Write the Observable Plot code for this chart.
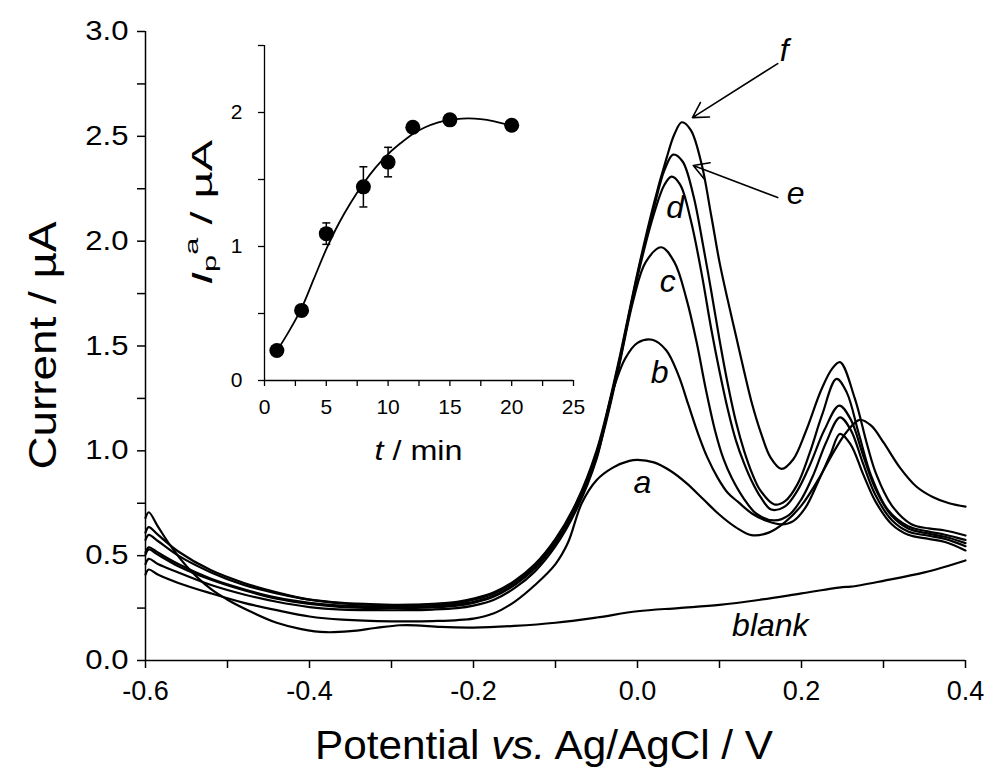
<!DOCTYPE html>
<html><head><meta charset="utf-8">
<script src="https://cdn.jsdelivr.net/npm/d3@7"></script>
<script src="https://cdn.jsdelivr.net/npm/@observablehq/plot@0.6"></script>
<style>
body{margin:0;background:#fff;}
#wrap{position:relative;width:986px;height:774px;}
#wrap svg{position:absolute;left:0;top:0;}
</style></head><body><div id="wrap"></div>
<script>
// ---------- main chart data (potential V, current µA) ----------
const xDomain = [-0.6, 0.4];
const yDomain = [0, 3.0];
const xMajor = [-0.6, -0.4, -0.2, 0.0, 0.2, 0.4];
const xMinor = [-0.5, -0.3, -0.1, 0.1, 0.3];
const yMajor = [0, 0.5, 1.0, 1.5, 2.0, 2.5, 3.0];
const yMinor = [0.25, 0.75, 1.25, 1.75, 2.25, 2.75];

const blankV = [-0.600,-0.596,-0.585,-0.57,-0.55,-0.52,-0.50,-0.47,-0.44,-0.41,-0.38,-0.35,-0.32,-0.29,-0.27,-0.24,-0.20,-0.15,-0.10,-0.05,0.00,0.05,0.10,0.15,0.20,0.25,0.26,0.30,0.35,0.40];
const blankI = [0.68,0.707,0.64,0.55,0.45,0.34,0.29,0.23,0.18,0.15,0.135,0.14,0.155,0.168,0.168,0.16,0.157,0.165,0.18,0.205,0.235,0.25,0.265,0.29,0.32,0.35,0.352,0.38,0.42,0.477];

const aV = [-0.600,-0.596,-0.585,-0.56,-0.52,-0.48,-0.44,-0.40,-0.36,-0.30,-0.25,-0.20,-0.175,-0.15,-0.125,-0.10,-0.085,-0.068,-0.05,-0.03,-0.01,0.00,0.02,0.04,0.06,0.08,0.10,0.12,0.139,0.16,0.18,0.20,0.22,0.24,0.255,0.271,0.285,0.30,0.32,0.34,0.36,0.38,0.40];
const aI = [0.41,0.434,0.41,0.37,0.32,0.275,0.24,0.21,0.195,0.187,0.188,0.20,0.225,0.28,0.36,0.46,0.56,0.75,0.86,0.92,0.952,0.957,0.945,0.905,0.845,0.77,0.695,0.635,0.598,0.61,0.66,0.74,0.86,1.0,1.09,1.148,1.12,1.04,0.92,0.83,0.78,0.75,0.734];

const bV = [-0.600,-0.596,-0.585,-0.56,-0.52,-0.48,-0.44,-0.40,-0.36,-0.32,-0.28,-0.25,-0.22,-0.20,-0.175,-0.15,-0.125,-0.10,-0.075,-0.05,-0.032,-0.015,0.00,0.018,0.035,0.05,0.062,0.074,0.085,0.098,0.11,0.123,0.14,0.158,0.1756,0.19,0.205,0.22,0.235,0.247,0.26,0.275,0.29,0.31,0.33,0.355,0.375,0.40];
const bI = [0.46,0.485,0.46,0.42,0.36,0.315,0.28,0.255,0.243,0.24,0.24,0.243,0.25,0.262,0.29,0.345,0.425,0.545,0.715,0.96,1.26,1.44,1.515,1.53,1.48,1.36,1.22,1.08,0.97,0.87,0.80,0.755,0.70,0.665,0.649,0.665,0.73,0.85,0.98,1.081,1.03,0.89,0.76,0.65,0.60,0.58,0.565,0.525];

const cV = [-0.600,-0.596,-0.585,-0.56,-0.52,-0.48,-0.44,-0.40,-0.36,-0.32,-0.28,-0.25,-0.22,-0.20,-0.175,-0.15,-0.125,-0.10,-0.075,-0.05,-0.025,-0.005,0.01,0.029,0.045,0.06,0.072,0.083,0.095,0.105,0.115,0.13,0.145,0.167,0.185,0.20,0.215,0.23,0.247,0.26,0.275,0.29,0.31,0.33,0.355,0.375,0.40];
const cI = [0.505,0.53,0.505,0.45,0.385,0.335,0.295,0.27,0.255,0.25,0.25,0.253,0.262,0.275,0.305,0.36,0.44,0.56,0.73,0.97,1.36,1.72,1.90,1.971,1.90,1.72,1.52,1.30,1.09,0.96,0.87,0.77,0.70,0.668,0.695,0.77,0.89,1.04,1.16,1.10,0.94,0.79,0.67,0.615,0.595,0.58,0.545];

const dV = [-0.600,-0.596,-0.585,-0.56,-0.52,-0.48,-0.44,-0.40,-0.36,-0.32,-0.28,-0.25,-0.22,-0.20,-0.175,-0.15,-0.125,-0.10,-0.075,-0.05,-0.025,0.00,0.02,0.033,0.0415,0.052,0.065,0.078,0.09,0.10,0.11,0.12,0.13,0.14,0.15,0.163,0.18,0.195,0.21,0.228,0.246,0.26,0.275,0.29,0.31,0.33,0.355,0.375,0.40];
const dI = [0.515,0.54,0.515,0.46,0.39,0.34,0.30,0.275,0.262,0.257,0.256,0.26,0.268,0.28,0.31,0.365,0.445,0.565,0.735,0.98,1.37,1.83,2.13,2.27,2.308,2.27,2.10,1.85,1.58,1.38,1.20,1.05,0.94,0.85,0.78,0.72,0.735,0.81,0.93,1.10,1.216,1.15,0.98,0.82,0.69,0.63,0.605,0.59,0.56];

const eV = [-0.600,-0.596,-0.585,-0.56,-0.52,-0.48,-0.44,-0.40,-0.36,-0.32,-0.28,-0.25,-0.22,-0.20,-0.175,-0.15,-0.125,-0.10,-0.075,-0.05,-0.025,0.00,0.02,0.033,0.0435,0.055,0.068,0.08,0.09,0.10,0.11,0.12,0.13,0.14,0.15,0.167,0.18,0.195,0.21,0.225,0.2427,0.255,0.27,0.285,0.305,0.33,0.355,0.375,0.40];
const eI = [0.575,0.599,0.57,0.50,0.42,0.36,0.32,0.29,0.275,0.268,0.265,0.268,0.275,0.29,0.32,0.375,0.455,0.575,0.745,0.99,1.38,1.84,2.16,2.34,2.413,2.38,2.22,1.98,1.76,1.53,1.32,1.14,1.0,0.89,0.81,0.744,0.76,0.84,0.99,1.17,1.343,1.28,1.08,0.88,0.72,0.64,0.615,0.60,0.575];

const fV = [-0.600,-0.596,-0.585,-0.56,-0.52,-0.48,-0.44,-0.40,-0.36,-0.32,-0.28,-0.25,-0.22,-0.20,-0.175,-0.15,-0.125,-0.10,-0.075,-0.05,-0.025,0.00,0.02,0.035,0.045,0.054,0.065,0.078,0.09,0.10,0.11,0.12,0.13,0.14,0.151,0.162,0.1756,0.19,0.205,0.224,0.237,0.247,0.265,0.28,0.291,0.31,0.334,0.355,0.375,0.40];
const fI = [0.61,0.636,0.60,0.52,0.43,0.37,0.325,0.29,0.272,0.265,0.265,0.27,0.28,0.295,0.325,0.38,0.46,0.58,0.75,1.0,1.39,1.85,2.18,2.39,2.51,2.567,2.53,2.37,2.12,1.90,1.72,1.55,1.38,1.22,1.08,0.97,0.914,0.96,1.09,1.29,1.39,1.423,1.25,1.03,0.89,0.74,0.65,0.63,0.62,0.596];

const curveNames = ["blank","a","b","c","d","e","f"];
const curveV = [blankV, aV, bV, cV, dV, eV, fV];
const curveI = [blankI, aI, bI, cI, dI, eI, fI];

// curve labels
const labelText = ["f","e","d","c","b","a","blank"];
const labelV = [0.179, 0.193, 0.046, 0.037, 0.027, 0.006, 0.162];
const labelI = [2.909, 2.227, 2.160, 1.807, 1.373, 0.849, 0.167];
// arrows (tail -> head)
const arrowV1 = [0.171, 0.171];
const arrowI1 = [2.847, 2.208];
const arrowV2 = [0.067, 0.068];
const arrowI2 = [2.589, 2.361];

// ---------- inset data ----------
const insetXDomain = [0, 25];
const insetYDomain = [0, 2.5];
const insetXMajor = [0, 5, 10, 15, 20, 25];
const insetXMinor = [2.5, 7.5, 12.5, 17.5, 22.5];
const insetYMajor = [0, 1, 2];
const insetYMinor = [0.5, 1.5, 2.5];
const times = [1, 3, 5, 8, 10, 12, 15, 20];
const peakCurrent = [0.224, 0.523, 1.096, 1.445, 1.63, 1.89, 1.945, 1.905];
const peakError = [0.02, 0.02, 0.08, 0.15, 0.11, 0.02, 0.02, 0.03];
const fitT = [1,2,3,4,5,6,7,8,9,10,11,12,13,14,15,16,17,18,19,20];
const fitI = [0.22,0.37,0.54,0.76,0.98,1.17,1.33,1.47,1.59,1.69,1.77,1.84,1.89,1.925,1.945,1.955,1.955,1.945,1.925,1.90];

// ---------- build tables ----------
const rows = curveNames.flatMap((name, k) => curveV[k].map((v, i) => ({name, V: v, I: curveI[k][i]})));
const labels = labelText.map((t, i) => ({t, V: labelV[i], I: labelI[i]}));
const arrows = arrowV1.map((v, i) => ({x1: v, y1: arrowI1[i], x2: arrowV2[i], y2: arrowI2[i]}));
const pts = times.map((t, i) => ({t, y: peakCurrent[i], lo: peakCurrent[i] - peakError[i], hi: peakCurrent[i] + peakError[i]}));
const fit = fitT.map((t, i) => ({t, y: fitI[i]}));

const FONT = "'Liberation Sans', Arial, Helvetica, sans-serif";
const capSymbol = {draw(ctx, size) { const w = Math.sqrt(size) / 2; ctx.moveTo(-w, 0); ctx.lineTo(w, 0); }};

const W = 986, H = 774;
const mL = 145, mR = 21, mT = 31, mB = 114;

const main = Plot.plot({
  width: W, height: H,
  marginLeft: mL, marginRight: mR, marginTop: mT, marginBottom: mB,
  style: {fontFamily: FONT, background: "transparent", color: "black", overflow: "visible"},
  x: {domain: xDomain, label: null},
  y: {domain: yDomain, label: null},
  marks: [
    Plot.axisX({ticks: xMinor, tickSize: 8, tickFormat: () => "", label: null, strokeWidth: 1.5}),
    Plot.axisY({ticks: yMinor, tickSize: 8, tickFormat: () => "", label: null, strokeWidth: 1.5}),
    Plot.axisX({ticks: xMajor, tickSize: 8, tickPadding: 12, tickFormat: d => d.toFixed(1), fontSize: 27, label: null, strokeWidth: 1.5}),
    Plot.axisY({ticks: yMajor, tickSize: 8, tickPadding: 9, tickFormat: d => d.toFixed(1), fontSize: 27, label: null, strokeWidth: 1.5}),
    Plot.ruleY([yDomain[0]], {strokeWidth: 1.5}),
    Plot.ruleX([xDomain[0]], {strokeWidth: 1.5}),
    Plot.line(rows, {x: "V", y: "I", z: "name", curve: "catmull-rom", stroke: "black", strokeWidth: 2.2}),
    Plot.arrow(arrows, {x1: "x1", y1: "y1", x2: "x2", y2: "y2", stroke: "black", strokeWidth: 1.6, headLength: 16}),
    Plot.text(labels, {x: "V", y: "I", text: "t", fontSize: 32, fontStyle: "italic", fill: "black"})
  ]
});

const iW = 600, iH = 470;
const imL = 264, imR = 27, imT = 45, imB = 90;
const inset = Plot.plot({
  width: iW, height: iH,
  marginLeft: imL, marginRight: imR, marginTop: imT, marginBottom: imB,
  style: {fontFamily: FONT, background: "transparent", color: "black", overflow: "visible"},
  x: {domain: insetXDomain, label: null},
  y: {domain: insetYDomain, label: null},
  marks: [
    Plot.axisX({ticks: insetXMinor, tickSize: 6, tickFormat: () => "", label: null, strokeWidth: 1.3}),
    Plot.axisY({ticks: insetYMinor, tickSize: 6, tickFormat: () => "", label: null, strokeWidth: 1.3}),
    Plot.axisX({ticks: insetXMajor, tickSize: 6, tickPadding: 13, tickFormat: d => String(d), fontSize: 21, label: null, strokeWidth: 1.3}),
    Plot.axisY({ticks: insetYMajor, tickSize: 6, tickPadding: 16, tickFormat: d => String(d), fontSize: 21, label: null, strokeWidth: 1.3}),
    Plot.ruleY([insetYDomain[0]], {strokeWidth: 1.3}),
    Plot.ruleX([insetXDomain[0]], {strokeWidth: 1.3}),
    Plot.line(fit, {x: "t", y: "y", curve: "catmull-rom", stroke: "black", strokeWidth: 1.8}),
    Plot.ruleX(pts, {x: "t", y1: "lo", y2: "hi", stroke: "black", strokeWidth: 1.5}),
    Plot.dot(pts, {x: "t", y: "hi", symbol: capSymbol, r: 4.5, stroke: "black", strokeWidth: 1.5, fill: "none"}),
    Plot.dot(pts, {x: "t", y: "lo", symbol: capSymbol, r: 4.5, stroke: "black", strokeWidth: 1.5, fill: "none"}),
    Plot.dot(pts, {x: "t", y: "y", r: 7.5, fill: "black", stroke: "none"})
  ]
});

// axis titles (main)
const ms = d3.select(main);
const xr = main.scale("x").range, yr = main.scale("y").range;
const xt = ms.append("text").attr("x", (xr[0] + xr[1]) / 2 - 11).attr("y", H - 15)
  .attr("text-anchor", "middle").attr("font-size", 40).attr("fill", "black").attr("font-family", FONT)
  .attr("textLength", 458).attr("lengthAdjust", "spacingAndGlyphs");
xt.append("tspan").text("Potential ");
xt.append("tspan").attr("font-style", "italic").text("vs.");
xt.append("tspan").text(" Ag/AgCl / V");
ms.append("text").attr("transform", `translate(${mL - 99},${(yr[0] + yr[1]) / 2}) rotate(-90)`)
  .attr("text-anchor", "middle").attr("dominant-baseline", "middle").attr("font-size", 39)
  .attr("textLength", 248).attr("lengthAdjust", "spacingAndGlyphs")
  .attr("fill", "black").attr("font-family", FONT).text("Current / µA");

// axis titles (inset)
const is = d3.select(inset);
const ixr = inset.scale("x").range, iyr = inset.scale("y").range;
const ixt = is.append("text").attr("x", (ixr[0] + ixr[1]) / 2).attr("y", iH - 10)
  .attr("text-anchor", "middle").attr("font-size", 28).attr("fill", "black").attr("font-family", FONT)
  .attr("textLength", 88).attr("lengthAdjust", "spacingAndGlyphs");
ixt.append("tspan").attr("font-style", "italic").text("t");
ixt.append("tspan").text(" / min");
const iyt = is.append("text").attr("transform", `translate(${imL - 60},${(iyr[0] + iyr[1]) / 2}) rotate(-90)`)
  .attr("text-anchor", "middle").attr("dominant-baseline", "middle").attr("font-size", 29)
  .attr("textLength", 145).attr("lengthAdjust", "spacingAndGlyphs")
  .attr("fill", "black").attr("font-family", FONT);
iyt.append("tspan").attr("font-style", "italic").text("I");
iyt.append("tspan").attr("font-size", 19).attr("dy", 7).text("p");
iyt.append("tspan").attr("font-size", 19).attr("dy", -18).text("a");
iyt.append("tspan").attr("dy", 11).text(" / µA");

const wrap = document.getElementById("wrap");
wrap.appendChild(main);
wrap.appendChild(inset);

// widen the main y tick labels slightly to match the reference lettering
ms.selectAll('g[aria-label="y-axis tick label"] text').each(function () {
  const L = this.getComputedTextLength();
  if (L > 0) { this.setAttribute("textLength", L * 1.15); this.setAttribute("lengthAdjust", "spacingAndGlyphs"); }
});
</script></body></html>
